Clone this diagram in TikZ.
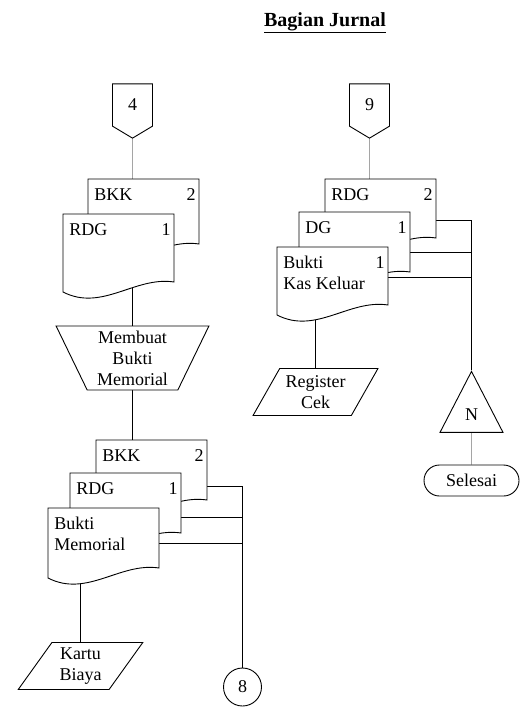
\documentclass[tikz,border=0pt]{standalone}
\usepackage{fontspec}
\setmainfont{Liberation Serif}
\usetikzlibrary{shapes.geometric, shapes.symbols, shapes.misc}
\pgfdeclarelayer{background}
\pgfsetlayers{background,main}

\begin{document}
\begin{tikzpicture}[
  x=1pt, y=-1pt,
  font=\fontsize{18}{21}\selectfont,
  line width=0.9pt,
  txt/.style={inner sep=0pt, align=left},
  offpage/.style={draw, fill=white, signal, signal to=south, signal pointer angle=118, minimum width=40, minimum height=45, inner sep=0pt},
  proc/.style={draw, fill=white, trapezium, trapezium stretches=true, shape border rotate=180, trapezium left angle=66, trapezium right angle=66, minimum width=153, minimum height=64, inner sep=0pt, align=center},
  io/.style={draw, fill=white, trapezium, trapezium stretches=true, trapezium left angle=56, trapezium right angle=124, minimum width=125, minimum height=47, inner sep=0pt, align=center},
  merge/.style={draw, fill=white, isosceles triangle, isosceles triangle stretches, shape border rotate=90, minimum width=63, minimum height=61, inner sep=0pt},
  term/.style={draw, fill=white, rounded rectangle, minimum width=95, minimum height=31, inner sep=0pt},
  conn/.style={draw, fill=white, circle, minimum size=38, inner sep=0pt},
  pics/doc/.style n args={3}{code={
    \draw[fill=white] (0,0) coordinate (-nw) -- (111,0) coordinate (-ne)
      -- (111,#3-10) .. controls (72,#3-16) and (39,#3+20) .. (0,#3) -- cycle;
    \coordinate (-c) at (55,30);
    \node[txt, anchor=north west] (-lbl) at (6,9) {#1};
    \node[txt, anchor=north east] (-num) at (108,9) {#2};
  }}
]
\useasboundingbox (0,0) rectangle (525,720);

\node[font=\fontsize{20}{24}\selectfont\bfseries] (title) at (325,23) {\underline{Bagian Jurnal}};

\node[offpage] (off4) at (132.5,105) {4};
\pic (bkkA) at (88,179) {doc={BKK}{2}{75}};
\pic (rdgA) at (63,214) {doc={RDG}{1}{78}};
\node[proc] (memb) at (132.5,358) {Membuat\\Bukti\\Memorial};
\pic (bkkB) at (96,440) {doc={BKK}{2}{70}};
\pic (rdgB) at (70,473) {doc={RDG}{1}{70}};
\pic (bm) at (48,508) {doc={Bukti\\Memorial}{}{70}};
\node[io] (kartu) at (80.5,666) {Kartu\\Biaya};
\node[conn] (c8) at (242.5,687) {8};

\node[offpage] (off9) at (369.5,105) {9};
\pic (rdgC) at (325,179) {doc={RDG}{2}{69}};
\pic (dgC) at (299,212) {doc={DG}{1}{70}};
\pic (bkkel) at (277,247) {doc={Bukti\\Kas Keluar}{1}{68}};
\node[io] (reg) at (315.5,392) {Register\\Cek};
\node[merge] (tri) at (471.5,415) {N};
\node[term] (selesai) at (471.5,480.5) {Selesai};

\begin{pgfonlayer}{background}
  \draw (off4) -- (off4 |- bkkA-c);
  \draw (memb) -- (memb |- rdgA-c);
  \draw (memb) -- (memb |- bkkB-c);
  \draw (kartu) -- (kartu |- bm-c);
  \draw ([yshift=-46pt]bkkB-ne) -| (c8);
  \draw ([yshift=-44pt]rdgB-ne) -| (c8);
  \draw ([yshift=-35pt]bm-ne) -| (c8);
  \draw (off9) -- (off9 |- rdgC-c);
  \draw (reg) -- (reg |- bkkel-c);
  \draw ([yshift=-41pt]rdgC-ne) -| (tri);
  \draw ([yshift=-40pt]dgC-ne) -| (tri);
  \draw ([yshift=-30pt]bkkel-ne) -| (tri);
  \draw (tri) -- (selesai);
\end{pgfonlayer}
\end{tikzpicture}
\end{document}
